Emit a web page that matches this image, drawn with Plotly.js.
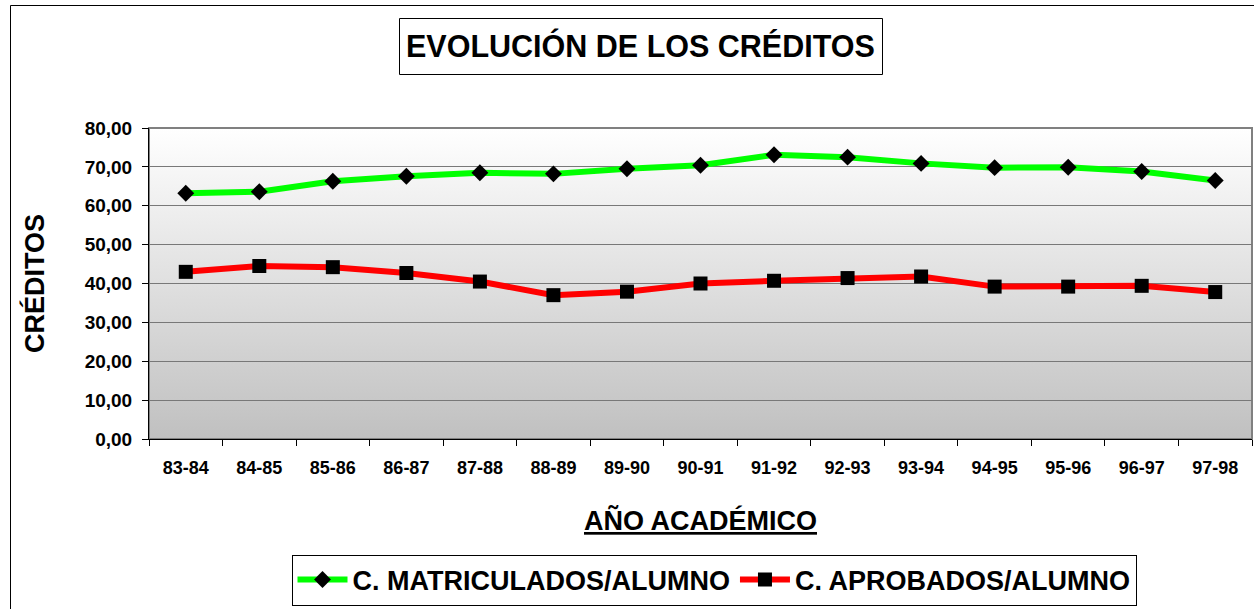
<!DOCTYPE html>
<html>
<head>
<meta charset="utf-8">
<script src="https://cdn.plot.ly/plotly-3.0.1.min.js"></script>
<style>html,body{margin:0;padding:0;background:#fff;}#chart{width:1254px;height:609px;}</style>
</head>
<body>
<div id="chart"></div>
<script>
const categories = ["83-84","84-85","85-86","86-87","87-88","88-89","89-90","90-91","91-92","92-93","93-94","94-95","95-96","96-97","97-98"];
const matriculados = [63.2,63.6,66.3,67.6,68.5,68.2,69.5,70.4,73.1,72.5,70.9,69.8,69.9,68.8,66.5];
const aprobados = [43.0,44.5,44.2,42.7,40.5,37.0,37.9,40.0,40.7,41.4,41.8,39.2,39.2,39.4,37.8];
const yTicks = [0,10,20,30,40,50,60,70,80];
const seriesNames = ["C. MATRICULADOS/ALUMNO","C. APROBADOS/ALUMNO"];
const chartTitle = "EVOLUCIÓN DE LOS CRÉDITOS";
const xTitle = "AÑO ACADÉMICO";
const yTitle = "CRÉDITOS";

const FONT = "Liberation Sans, Arial, sans-serif";
const PX = (px) => (px - 149) / 1103;
const PY = (py) => (439 - py) / 311;

const gradSvg = '<svg xmlns="http://www.w3.org/2000/svg" width="10" height="100" preserveAspectRatio="none">' +
  '<defs><linearGradient id="g" x1="0" y1="0" x2="0" y2="1">' +
  '<stop offset="0" stop-color="#ffffff"/><stop offset="1" stop-color="#c0c0c0"/></linearGradient></defs>' +
  '<rect width="10" height="100" fill="url(#g)"/></svg>';
const gradUri = 'data:image/svg+xml;base64,' + btoa(gradSvg);

const traces = [
  {
    x: categories, y: matriculados, name: seriesNames[0], type: 'scatter', mode: 'lines+markers',
    line: {color: '#00ff00', width: 6},
    marker: {symbol: 'diamond', size: 13, color: '#000000'}
  },
  {
    x: categories, y: aprobados, name: seriesNames[1], type: 'scatter', mode: 'lines+markers',
    line: {color: '#ff0000', width: 6},
    marker: {symbol: 'square', size: 14, color: '#000000'}
  }
];

const layout = {
  width: 1254, height: 609,
  margin: {l: 149, r: 2, t: 128, b: 170, pad: 0},
  paper_bgcolor: '#ffffff',
  plot_bgcolor: 'rgba(0,0,0,0)',
  separators: ',.',
  showlegend: true,
  font: {family: FONT, color: '#000000'},
  xaxis: {
    type: 'category',
    tickson: 'boundaries',
    ticks: 'outside', ticklen: 6, tickcolor: '#000000', tickwidth: 1,
    showline: true, linecolor: '#000000', linewidth: 1,
    showgrid: false, zeroline: false,
    ticklabelstandoff: 12,
    tickfont: {family: FONT, size: 18, color: '#000000', weight: 'bold'},
    range: [-0.5, categories.length - 0.5],
    title: {text: xTitle, standoff: 34, font: {family: FONT, size: 27, color: '#000000', weight: 'bold', lineposition: 'under'}}
  },
  yaxis: {
    range: [0, 80],
    tickvals: yTicks,
    tickformat: '.2f',
    ticks: 'outside', ticklen: 6, tickcolor: '#000000',
    showline: true, linecolor: '#000000', linewidth: 1,
    showgrid: true, gridcolor: '#787878', gridwidth: 1,
    zeroline: false,
    ticklabelstandoff: 6,
    tickfont: {family: FONT, size: 19, color: '#000000', weight: 'bold'},
    title: {text: yTitle, standoff: 32, font: {family: FONT, size: 27, color: '#000000', weight: 'bold'}}
  },
  legend: {
    orientation: 'h',
    x: PX(714), xanchor: 'center',
    y: PY(580), yanchor: 'middle',
    bgcolor: '#ffffff', bordercolor: '#000000', borderwidth: 1,
    font: {family: FONT, size: 27, color: '#000000', weight: 'bold'},
    itemwidth: 50, tracegroupgap: 0
  },
  annotations: [
    {
      text: chartTitle, xref: 'paper', yref: 'paper',
      x: PX(640.5), y: PY(46), xanchor: 'center', yanchor: 'middle',
      showarrow: false,
      font: {family: FONT, size: 30.5, color: '#000000', weight: 'bold'}
    }
  ],
  images: [
    {source: gradUri, xref: 'paper', yref: 'paper', x: 0, y: 1, sizex: 1, sizey: 1,
     sizing: 'stretch', xanchor: 'left', yanchor: 'top', layer: 'below'}
  ],
  shapes: [
    {type: 'rect', xref: 'paper', yref: 'paper', x0: 0, x1: 1, y0: 0, y1: 1,
     line: {color: '#808080', width: 2}, layer: 'below'},
    {type: 'rect', xref: 'paper', yref: 'paper',
     x0: PX(10.5), x1: PX(1300), y0: PY(700), y1: PY(5.5),
     line: {color: '#000000', width: 1}, layer: 'below'},
    {type: 'rect', xref: 'paper', yref: 'paper',
     x0: PX(399.5), x1: PX(882.5), y0: PY(74.5), y1: PY(18.5),
     line: {color: '#000000', width: 1}, fillcolor: '#ffffff', layer: 'below'}
  ]
};

Plotly.newPlot('chart', traces, layout, {displayModeBar: false, staticPlot: true});
</script>
</body>
</html>
